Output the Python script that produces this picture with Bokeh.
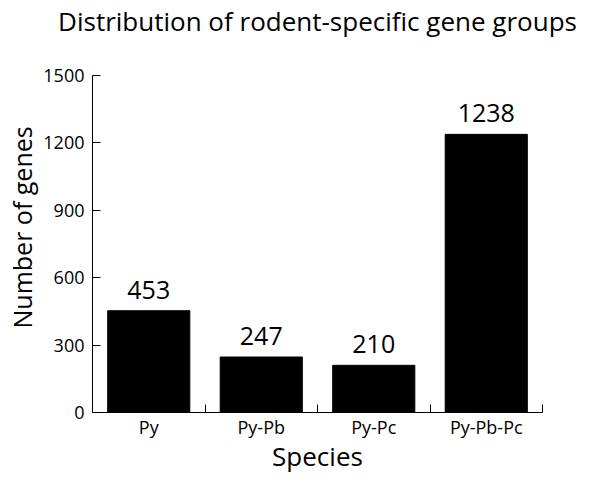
from bokeh.plotting import figure
from bokeh.models import Range1d, FixedTicker, ColumnDataSource, Title
from bokeh.core.properties import value
from bokeh.embed import file_html
from bokeh.resources import INLINE

species = ["Py", "Py-Pb", "Py-Pc", "Py-Pb-Pc"]
genes = [453, 247, 210, 1238]
y_ticks = [0, 300, 600, 900, 1200, 1500]
title_text = "Distribution of rodent-specific gene groups"
x_label = "Species"
y_label = "Number of genes"

FONT = "Open Sans"

xs = [i + 0.5 for i in range(len(species))]
src = ColumnDataSource(dict(x=xs, top=genes, lab=[str(g) for g in genes]))

p = figure(width=600, height=483, output_backend="svg", toolbar_location=None,
           x_range=Range1d(0, len(species)), y_range=Range1d(0, 1500),
           min_border_left=92, min_border_right=58, min_border_top=74, min_border_bottom=71)
p.outline_line_color = None
p.grid.grid_line_color = None
p.background_fill_color = "white"
p.border_fill_color = "white"

# spacer between frame and title, then the title itself
p.add_layout(Title(text=" ", text_font_size="1px", standoff=34), "above")
p.add_layout(Title(text=title_text, align="center", standoff=0, text_font=FONT,
                   text_font_size="26px", text_font_style="normal", text_color="black"), "above")

p.add_layout(Title(text=y_label, align="left", offset=84, standoff=4, text_font=FONT,
                   text_font_size="25px", text_font_style="normal", text_color="black"), "left")

p.vbar(x="x", top="top", bottom=0, width=0.73, source=src, color="black")
p.text(x="x", y="top", text="lab", source=src, text_align="center", text_baseline="bottom",
       y_offset=-12, text_font=value(FONT), text_font_size="25px", text_color="black")

# x axis
xa = p.xaxis[0]
xa.ticker = FixedTicker(ticks=xs, minor_ticks=[i + 1 for i in range(len(species))])
xa.major_label_overrides = {x: s for x, s in zip(xs, species)}
xa.major_tick_line_color = None
xa.major_tick_in = 0
xa.major_tick_out = 0
xa.minor_tick_in = 8
xa.minor_tick_out = 0
xa.minor_tick_line_color = "black"
xa.axis_line_color = "black"
xa.major_label_text_font = FONT
xa.major_label_text_font_size = "18px"
xa.major_label_text_color = "black"
xa.major_label_standoff = 2
xa.axis_label = x_label
xa.axis_label_text_font = FONT
xa.axis_label_text_font_size = "26px"
xa.axis_label_text_font_style = "normal"
xa.axis_label_text_color = "black"
xa.axis_label_standoff = -4

ya = p.yaxis[0]
ya.ticker = FixedTicker(ticks=y_ticks)
ya.minor_tick_line_color = None
ya.major_tick_in = 8
ya.major_tick_out = 0
ya.axis_line_color = "black"
ya.major_tick_line_color = "black"
ya.major_label_text_font = FONT
ya.major_label_text_font_size = "18px"
ya.major_label_text_color = "black"
ya.major_label_standoff = 8

open("out.html", "w").write(file_html(p, INLINE))
